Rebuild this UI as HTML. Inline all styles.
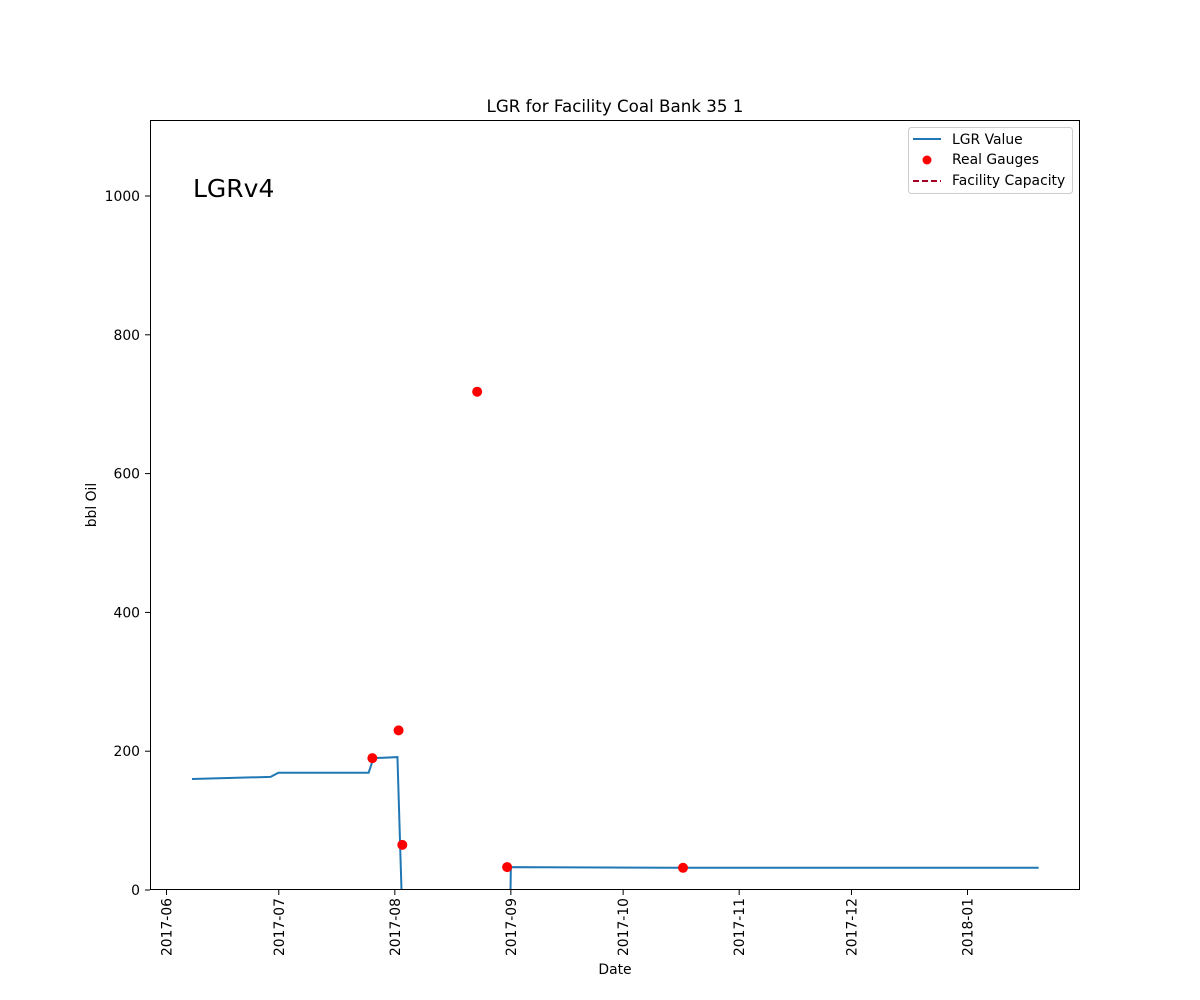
<!DOCTYPE html>
<html><head><meta charset="utf-8"><style>
html,body{margin:0;background:#fff;overflow:hidden;width:1200px;height:1000px;}
svg{display:block;font-family:"DejaVu Sans","Liberation Sans",sans-serif;}
</style></head><body>
<svg id="chart" width="1200" height="1000" viewBox="0 0 1200 1000">
<defs><clipPath id="plotclip"><rect x="150.5" y="120.5" width="929" height="769"/></clipPath></defs>
<rect x="0" y="0" width="1200" height="1000" fill="#fff"/>
<text x="615" y="112" font-size="16.7" text-anchor="middle">LGR for Facility Coal Bank 35 1</text>
<text x="193" y="197" font-size="25">LGRv4</text>
<text x="615" y="974" font-size="13.9" text-anchor="middle">Date</text>
<text x="96" y="505" font-size="13.9" text-anchor="middle" transform="rotate(-90 96 505)">bbl Oil</text>
<g id="ticks"></g>
<g id="marks"></g>
<rect x="150.5" y="120.5" width="929" height="769" fill="none" stroke="#000" stroke-width="1"/>
<g>
<rect x="908.5" y="127.5" width="164" height="66" rx="3" fill="#fff" stroke="#ccc"/>
<line x1="913" y1="139" x2="941" y2="139" stroke="#1f77b4" stroke-width="2"/>
<text x="952" y="144" font-size="13.9">LGR Value</text>
<circle cx="927" cy="160" r="4.5" fill="#ff0000"/>
<text x="952" y="164" font-size="13.9">Real Gauges</text>
<line x1="913" y1="181" x2="941" y2="181" stroke="#a50021" stroke-width="2" stroke-dasharray="6,3"/>
<text x="952" y="185" font-size="13.9">Facility Capacity</text>
</g>
</svg>
<script>
const xTickLabels = ["2017-06","2017-07","2017-08","2017-09","2017-10","2017-11","2017-12","2018-01"];
const yTickValues = [0,200,400,600,800,1000];
const lineDates = ["2017-06-07.8","2017-06-28.8","2017-06-30.9","2017-07-25","2017-07-26.3","2017-08-01.7","2017-08-02.8","2017-08-31.9","2017-09-01","2017-10-15","2018-01-20"];
const lineValues = [160,163,169,169,190,191.5,-3,-3,33,32,32];
const gaugeDates = ["2017-07-26","2017-08-02","2017-08-03","2017-08-23","2017-08-31","2017-10-17"];
const gaugeValues = [190,230,65,718,33,32];

const NS="http://www.w3.org/2000/svg";
const base=Date.UTC(2017,5,1);
function dayOf(s){const p=s.split("-");const d=parseFloat(p[2]||"1");return (Date.UTC(+p[0],+p[1]-1,1)-base)/864e5+(d-1);}
function xs(s){return 166.5+dayOf(s)*3.743;}
function ys(v){return 890-v*0.694;}
const ticks=document.getElementById("ticks"), marks=document.getElementById("marks");
function mk(t,a,parent){const e=document.createElementNS(NS,t);for(const k in a)e.setAttribute(k,a[k]);parent.appendChild(e);return e;}
xTickLabels.forEach(l=>{
  const x=xs(l);
  mk("line",{x1:x,y1:890,x2:x,y2:895,stroke:"#000"},ticks);
  const t=mk("text",{x:x+5,y:898,"font-size":13.9,"text-anchor":"end",transform:`rotate(-90 ${x+5} 898)`},ticks);
  t.textContent=l;
  
  
});
yTickValues.forEach(v=>{
  const y=ys(v);
  mk("line",{x1:145,y1:y,x2:150,y2:y,stroke:"#000"},ticks);
  const t=mk("text",{x:140,y:y+5,"font-size":13.9,"text-anchor":"end"},ticks);
  t.textContent=v;
  
  
});
const pl=mk("polyline",{points:lineDates.map((d,i)=>xs(d)+","+ys(lineValues[i])).join(" "),fill:"none",stroke:"#1f77b4","stroke-width":2,"clip-path":"url(#plotclip)"},marks);


gaugeDates.forEach((d,i)=>{
  const c=mk("circle",{cx:xs(d),cy:ys(gaugeValues[i]),r:5,fill:"#ff0000"},marks);
  
  
});
</script>
</body></html>
